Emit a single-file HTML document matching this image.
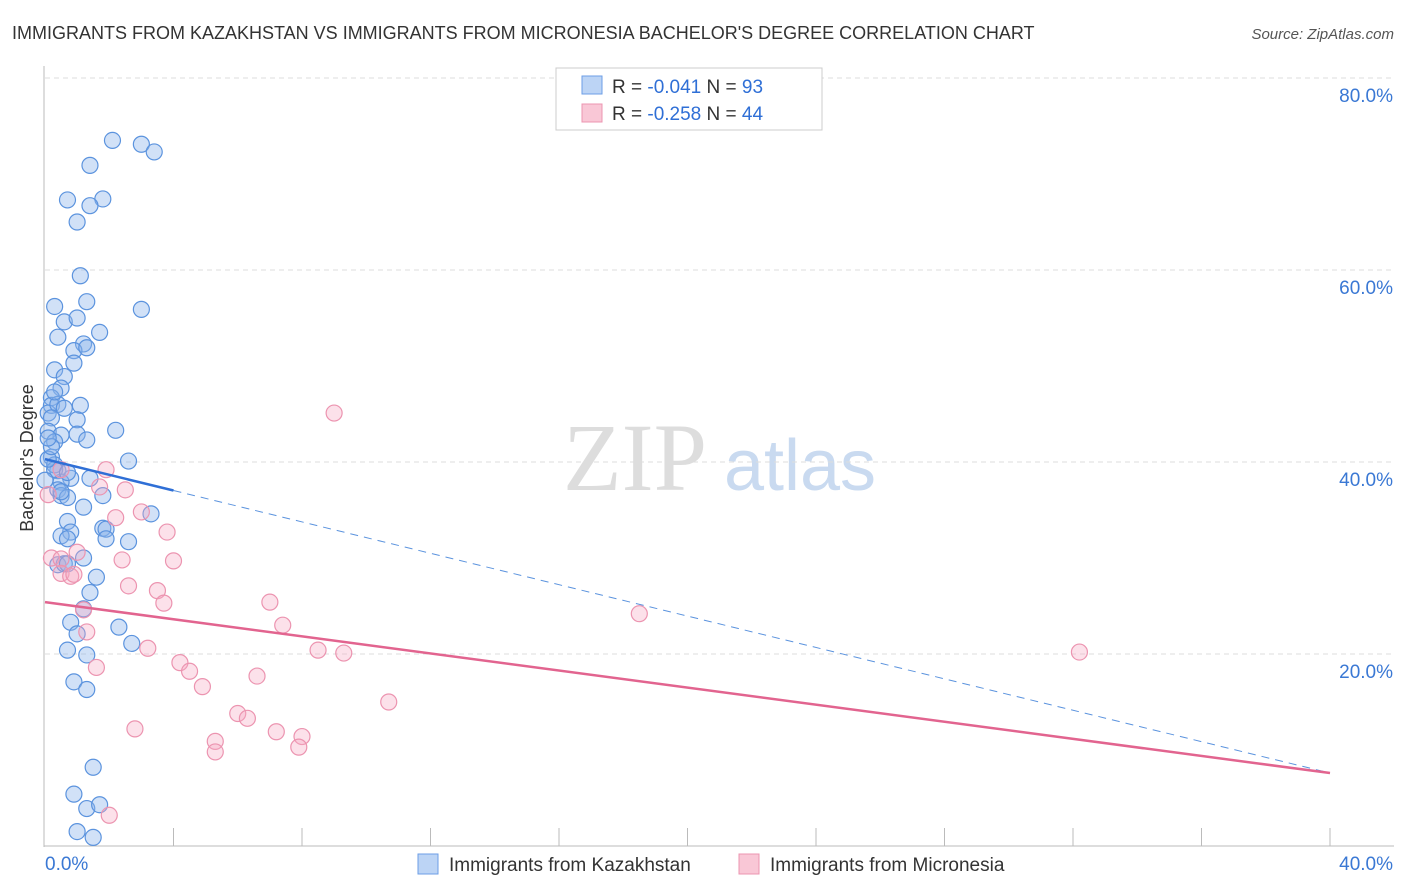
<!DOCTYPE html>
<html><head><meta charset="utf-8"><style>
body{margin:0;background:#fff;font-family:"Liberation Sans",sans-serif;}
#wrap{position:relative;width:1406px;height:892px;overflow:hidden}
</style></head><body>
<div id="wrap">
<svg id="svg" width="1406" height="892" font-family="Liberation Sans, sans-serif">
<text x="12" y="39" font-size="18" fill="#333">IMMIGRANTS FROM KAZAKHSTAN VS IMMIGRANTS FROM MICRONESIA BACHELOR'S DEGREE CORRELATION CHART</text>
<text x="1394" y="39" font-size="15" fill="#555" text-anchor="end" font-style="italic">Source: ZipAtlas.com</text>
<text x="33" y="458" font-size="18" fill="#333" text-anchor="middle" transform="rotate(-90 33 458)">Bachelor's Degree</text>
<g><text x="635" y="490" font-size="96" fill="#ddd" text-anchor="middle" font-family="Liberation Serif, serif">ZIP</text><text x="800" y="490" font-size="72" fill="#c9daf0" text-anchor="middle">atlas</text></g>
<g id="grid"></g><g id="axes"></g><g id="pts"></g><g id="lines"></g>
<g>
<rect x="556" y="68" width="266" height="62" fill="#fff" stroke="#ccc"/>
<rect x="582" y="76" width="20" height="18" fill="#bcd4f5" stroke="#6c9ee6"/>
<rect x="582" y="104" width="20" height="18" fill="#f9c7d6" stroke="#ec94b0"/>
<text x="612" y="93" font-size="19" fill="#333">R = <tspan fill="#2f6fd6">-0.041</tspan>   N = <tspan fill="#2f6fd6">93</tspan></text>
<text x="612" y="120" font-size="19" fill="#333">R = <tspan fill="#2f6fd6">-0.258</tspan>   N = <tspan fill="#2f6fd6">44</tspan></text>
</g>
<g>
<rect x="418" y="854" width="20" height="20" fill="#bcd4f5" stroke="#6c9ee6"/>
<text x="449" y="871" font-size="19" fill="#333">Immigrants from Kazakhstan</text>
<rect x="739" y="854" width="20" height="20" fill="#f9c7d6" stroke="#ec94b0"/>
<text x="770" y="871" font-size="19" fill="#333">Immigrants from Micronesia</text>
</g>
</svg></div>
<script>
const yTicks=[20,40,60,80];
const xTickLabels=["0.0%","40.0%"];
const blueX=[2.1,3.0,3.4,1.4,0.7,1.8,1.4,1.0,1.1,0.3,1.3,3.0,0.6,1.0,1.7,0.4,1.2,0.9,1.3,0.9,0.3,0.6,0.5,0.2,0.2,0.1,1.1,0.4,1.0,0.2,2.2,0.1,0.5,1.0,1.3,0.3,2.6,0.2,0.4,0.8,0.5,1.4,0.4,0.5,1.8,0.7,3.3,1.2,0.7,0.8,1.8,1.9,0.5,0.7,1.9,2.6,1.2,0.4,0.6,0.7,1.6,1.4,1.2,0.8,2.3,1.0,2.7,0.7,1.3,0.9,1.3,1.5,0.9,1.3,1.7,1.0,1.5,0.3,0.3,0.1,0.2,0.6,0.3,0.7,0.5,0.1,0.0];
const blueY=[73.5,73.1,72.3,70.9,67.3,67.4,66.7,65.0,59.4,56.2,56.7,55.9,54.6,55.0,53.5,53.0,52.3,51.6,51.9,50.3,49.6,48.9,47.7,46.7,45.9,45.1,45.9,46.0,44.4,44.6,43.3,43.2,42.8,42.9,42.3,42.1,40.1,40.5,39.1,38.3,37.9,38.3,37.1,36.5,36.5,36.3,34.6,35.3,33.8,32.7,33.1,33.0,32.3,32.0,32.0,31.7,30.0,29.3,29.4,29.4,28.0,26.4,24.7,23.3,22.8,22.1,21.1,20.4,19.9,17.1,16.3,8.2,5.4,3.9,4.3,1.5,0.9,39.7,39.2,40.3,41.6,45.6,47.3,38.9,36.9,42.5,38.1];
const pinkX=[9.0,1.9,2.5,1.7,2.2,3.0,3.8,0.5,0.2,0.5,1.0,4.0,2.4,2.6,3.5,0.5,0.8,0.9,3.7,7.0,18.5,1.2,1.3,7.4,3.2,4.2,4.5,8.5,9.3,4.9,6.6,32.2,1.6,10.7,6.0,6.3,2.8,7.2,8.0,5.3,5.3,7.9,2.0,0.1];
const pinkY=[45.1,39.2,37.1,37.4,34.2,34.8,32.7,39.2,30.0,29.9,30.6,29.7,29.8,27.1,26.6,28.4,28.1,28.3,25.3,25.4,24.2,24.6,22.3,23.0,20.6,19.1,18.2,20.4,20.1,16.6,17.7,20.2,18.6,15.0,13.8,13.3,12.2,11.9,11.4,10.9,9.8,10.3,3.2,36.6];
const blueTrend=[40.3,7.6], blueSolidEnd=4.0, pinkTrend=[25.4,7.6];
const X=v=>45+v/40*1285, Y=v=>846-v/20*192;
const NS="http://www.w3.org/2000/svg";
function mk(p,t,a){const e=document.createElementNS(NS,t);for(const k in a)e.setAttribute(k,a[k]);document.getElementById(p).appendChild(e);return e;}
yTicks.forEach(t=>{
 const l=mk('grid','line',{x1:45,x2:1395,y1:Y(t),y2:Y(t),stroke:'#ddd','stroke-dasharray':'5,4'});
 
 
 const tx=mk('grid','text',{x:1393,y:Y(t)+24,'font-size':19,fill:'#3a78d4','text-anchor':'end'});tx.textContent=t.toFixed(1)+'%';
 
 
});
const ax=mk('axes','line',{x1:44,x2:44,y1:66,y2:847,stroke:'#bbb'});


const bx=mk('axes','line',{x1:44,x2:1394,y1:846,y2:846,stroke:'#bbb'});


for(let i=1;i<=10;i++){const t=mk('axes','line',{x1:X(i*4),x2:X(i*4),y1:828,y2:846,stroke:'#bbb'});
 
 }
[[0,'start',45],[40,'end',1393]].forEach((d,i)=>{const t=mk('axes','text',{x:d[2],y:870,'font-size':19,fill:'#3a78d4','text-anchor':d[1]});t.textContent=xTickLabels[i];
 
 });
blueX.forEach((x,i)=>{const c=mk('pts','circle',{cx:X(x),cy:Y(blueY[i]),r:8,fill:'rgba(140,180,235,0.4)',stroke:'#5b93de','stroke-width':1.2});
 
 });
pinkX.forEach((x,i)=>{const c=mk('pts','circle',{cx:X(x),cy:Y(pinkY[i]),r:8,fill:'rgba(245,170,195,0.35)',stroke:'#ec94b0','stroke-width':1.2});
 
 });
const by=x=>blueTrend[0]+(blueTrend[1]-blueTrend[0])*x/40;
const l1=mk('lines','line',{x1:X(0),y1:Y(by(0)),x2:X(blueSolidEnd),y2:Y(by(blueSolidEnd)),stroke:'#2f6fd6','stroke-width':2.5});


const l2=mk('lines','line',{x1:X(blueSolidEnd),y1:Y(by(blueSolidEnd)),x2:X(40),y2:Y(by(40)),stroke:'#5b93de','stroke-width':1,'stroke-dasharray':'8,6'});


const l3=mk('lines','line',{x1:X(0),y1:Y(pinkTrend[0]),x2:X(40),y2:Y(pinkTrend[1]),stroke:'#e2648f','stroke-width':2.5});


</script>
</body></html>
